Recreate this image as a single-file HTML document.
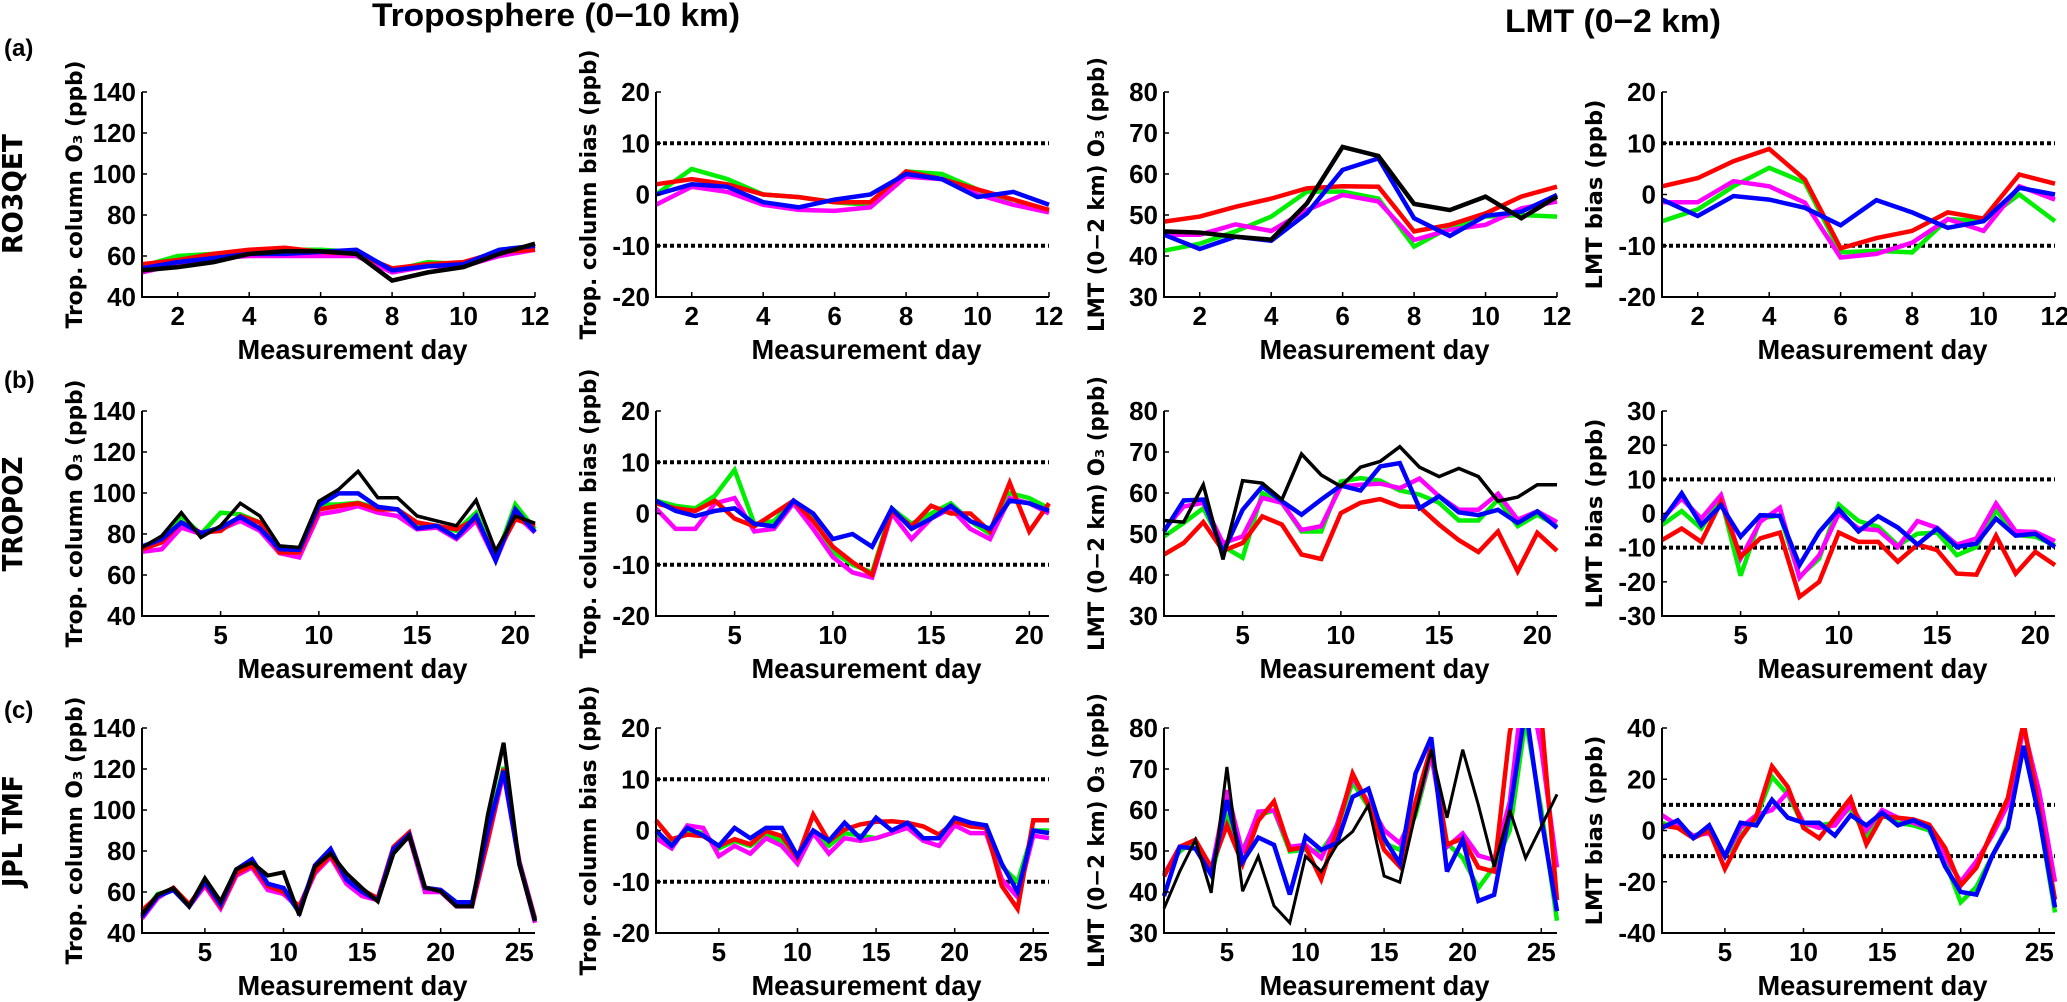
<!DOCTYPE html>
<html><head><meta charset="utf-8"><style>
html,body{margin:0;padding:0;background:#fff;}
svg{display:block;}
text{font-family:"Liberation Sans",sans-serif;font-weight:bold;fill:#000;}
.wide{font-family:"DejaVu Sans","Liberation Sans",sans-serif;}
</style></head><body>
<svg id="fig" width="2067" height="1002" viewBox="0 0 2067 1002" xmlns="http://www.w3.org/2000/svg">
<text x="556" y="26" font-size="32" text-anchor="middle" textLength="368" lengthAdjust="spacingAndGlyphs">Troposphere (0−10 km)</text>
<text x="1613" y="32" font-size="32" text-anchor="middle" textLength="216" lengthAdjust="spacingAndGlyphs">LMT (0−2 km)</text>
<text x="4" y="56" font-size="24">(a)</text>
<text x="4" y="388" font-size="24">(b)</text>
<text x="4" y="718" font-size="24">(c)</text>
<text class="wide" transform="translate(22,194) rotate(-90)" font-size="28" text-anchor="middle" textLength="120" lengthAdjust="spacingAndGlyphs">RO3QET</text>
<text class="wide" transform="translate(22,514) rotate(-90)" font-size="28" text-anchor="middle" textLength="115" lengthAdjust="spacingAndGlyphs">TROPOZ</text>
<text class="wide" transform="translate(22,831) rotate(-90)" font-size="28" text-anchor="middle" textLength="112" lengthAdjust="spacingAndGlyphs">JPL TMF</text>
</svg>
<script>
// ---- data: row a (12 days) ----
const a1_green=[55,60,61,62,63,63,62,53,57,56,63,65];
const a1_magenta=[52,56,59,60,60,60,60,52,55,55,60,63];
const a1_red=[56,58,61,63,64,62,61,54,56,57,62,63];
const a1_blue=[54,57,59,61,61,62,63,53,55,56,63,65];
const a1_black=[53,54.6,57,61,62.3,62.3,61,48,52,54.6,61,66];
const a2_green=[0,5,3,0,-0.5,-1.5,-2,4.5,4,1,-2,-3];
const a2_magenta=[-2,1.5,0.5,-2,-3,-3.2,-2.5,3.5,3,0,-2,-3.5];
const a2_red=[2,3,2,0,-0.5,-1.5,-1.5,4.5,3,1,-1,-3];
const a2_blue=[0,2,1.5,-1.5,-2.5,-1,0,4,3,-0.5,0.5,-2];
const a3_green=[41.3,43,46,49.6,55.7,55.7,54,42.3,47,49.6,50,49.6];
const a3_magenta=[45.2,45.2,47.7,46.1,51.2,54.9,53.3,43.9,46.4,47.6,51.6,53.3];
const a3_red=[48.4,49.6,52,54,56.5,57,56.9,46,47.6,50.4,54.5,56.9];
const a3_blue=[45.2,41.7,44.7,43.7,50.4,61,63.8,49.2,44.9,49.8,50.8,54.9];
const a3_black=[46,45.7,44.7,44,52.8,66.6,64.4,52.7,51.2,54.5,49.2,54.5];
const a4_green=[-5.2,-2.9,1.6,5.2,2.3,-11.3,-11,-11.3,-4.8,-5.2,0,-5.2];
const a4_magenta=[-1.5,-1.5,2.6,1.6,-1.6,-12.3,-11.6,-9.4,-4.8,-7.1,1.6,-1];
const a4_red=[1.6,3.2,6.5,8.9,2.9,-10.5,-8.5,-7.1,-3.5,-4.7,3.9,2.1];
const a4_blue=[-1,-4.2,-0.3,-1,-2.6,-6,-1.1,-3.5,-6.5,-5.2,1.3,0];
// ---- data: row b (21 days) ----
const b1_green=[73.4,78.3,88.8,80,90.4,89.6,85.6,71.8,71,94.4,94.4,95.2,92.8,92,84,84,81.5,90.4,67.7,94.4,82.3];
const b1_magenta=[71.3,72.6,83.1,80,82.3,86.4,81.5,70.7,68.6,89.6,91.2,93.6,90.4,88.8,82.3,83.1,77.5,86.4,67,89.6,80.7];
const b1_red=[72.6,75.9,85.6,80.7,81.5,88.8,85.6,71,71,92,93.6,95,92,92,85.6,84,82.3,87.2,69.4,87.2,84];
const b1_blue=[73.9,77.5,85.6,80.4,83.1,88.3,82.7,72.6,72.3,94,99.8,99.8,93.2,92,82.8,84,78.3,88.8,67,92,81];
const b1_black=[73.4,79,90.4,78.3,84,95,88.8,74.2,73.4,96,101.7,110.6,97.7,97.7,88.8,86.4,84,96.5,71.8,88.8,85.2];
const b2_green=[2.5,1.5,1,3.5,8.5,-2,-1.5,2.5,-1,-7.5,-10,-11.5,1,-2,0,2,-1.5,-4,4,3,1];
const b2_magenta=[1,-3,-3,2,3,-3.5,-3,2,-3,-8.5,-11.5,-12.5,0,-5,-1,1,-3,-5,3,2,0];
const b2_red=[2,1,0.5,2.5,-1,-2.5,0,2.5,-1.5,-6.5,-9.5,-12,0.5,-2.5,1.5,0,0,-3.5,6,-3.5,2];
const b2_blue=[2.5,0.5,-0.5,0.5,1,-2,-2.5,2.5,0,-5,-4,-6.5,1,-3,-1,1.5,-1.5,-3,2.5,2,0.5];
const b3_green=[49.4,52.7,56.3,47,44.2,60,57.6,50.6,50.6,62.8,63.6,63,60.6,59.6,57.6,53.3,53.3,58.4,51.9,54.7,51.9];
const b3_magenta=[51,56.7,57.6,47.8,49.4,58.8,57.6,51,51.9,61.6,62,62.3,61.2,63.5,59.2,55.9,55.9,59.8,53.5,55.5,52.9];
const b3_red=[45,47.8,52.9,45.9,47.8,54.3,52.3,45,43.9,55.1,57.6,58.5,56.7,56.6,52.3,48.5,45.6,50.6,40.9,50.3,45.9];
const b3_blue=[50.6,58.2,58.4,45.5,55.9,61.6,58,54.7,58.4,61.8,60.6,66.5,67.3,56.3,59.2,55.3,54.6,55.9,52.7,55.5,51.5];
const b3_black=[53.3,52.9,62,43.8,63,62.4,58.4,69.5,64.4,61.6,66.3,67.7,71.3,66.3,64,66,64,58,59,62,62];
const b4_green=[-3.4,0.7,-4.4,4.4,-18.2,-1.5,-0.5,-18.5,-13.2,2.6,-2.2,-3.9,-9.3,-5.9,-5.6,-12.2,-9.8,1,-6.3,-6.8,-9.3];
const b4_magenta=[-1.5,4.4,-1.5,5.4,-13.2,-2.4,1.7,-18.8,-12.2,0,-4.4,-4.9,-9.8,-2.2,-4.2,-9.1,-7.3,2.9,-5.2,-5.4,-8.1];
const b4_red=[-7.8,-4.4,-8.3,3.4,-12.7,-7.3,-5.6,-24.4,-20,-5.6,-8.3,-8.3,-14.1,-9.1,-10.7,-17.6,-17.9,-6.5,-17.6,-11.2,-15.1];
const b4_blue=[-2.2,5.9,-3.4,2.4,-6.8,-0.5,-0.7,-15.1,-5.4,1.2,-5.2,-0.8,-4.1,-9.1,-4.4,-9.8,-8.8,-1.5,-6.5,-5.9,-9.8];
// ---- data: row c (26 days) ----
const c1_green=[49,59,61,53,64,54,70,74,63,61,50,72,79,65,60,56,80,88,61,60,54,54,90,121,74,46];
const c1_magenta=[47,57,62,53,63,52,68,72,61,59,52,69,77,64,58,56,80,87,60,60,53,53,85,118,74,45];
const c1_red=[51,58,62,54,64,53,69,73,63,60,53,70,78,66,61,57,82,89,62,61,54,54,85,120,75,47];
const c1_blue=[48,58,61,53,65,54,71,76,64,62,50,73,81,66,60,56,81,88,62,61,55,55,90,119,74,46];
const c1_black=[49,58.7,61.9,53,66.7,55.4,71.2,74.4,68,69.6,48.7,72.4,78.8,69.1,61.9,55.4,78.8,87.3,62.2,60.3,53,53,97.6,132.8,73.2,45.8];
const c2_green=[-0.5,-2.5,0,-0.5,-3.5,-2,-3,-1,-2,-6,-0.5,-3,-0.5,-1,-1.5,-0.5,1,-1.5,-1.5,2.5,1.5,1,-7,-10,0,0];
const c2_magenta=[-1.5,-3.5,1,0.5,-5,-3,-4.5,-1.5,-3,-6.5,-0.5,-4.5,-1.5,-2,-1.5,-0.5,0.5,-2,-3,1,-0.5,-0.5,-9.5,-13,-1,-1.5];
const c2_red=[2,-1.7,-0.8,-1.1,-3,-1.7,-2.7,-0.1,-1.1,-5.3,3.1,-2.1,0.2,1.2,1.7,1.8,1.5,0.8,-0.8,1.8,0.8,0.5,-10.8,-15.3,2,2];
const c2_blue=[0,-3,0.5,-1,-3,0.5,-1.5,0.5,0.5,-5,0,-2,1.5,-1.5,2.5,0,1.5,-1.5,-1.5,2.5,1.5,1,-6.5,-12,0,-0.5];
const c3_green=[44.6,49.9,52.7,44.2,58.3,50.3,58.7,59.9,49.9,50.3,49.9,55.5,66.8,60.8,51.9,50.3,58.7,73.3,51.9,48.3,41,46.2,55,82,60,33];
const c3_magenta=[44.2,51,52.7,45,64.8,49.5,59.6,59.9,51,51.5,48.3,56.3,68,61.9,55.1,51.9,59.9,73.7,51,54.3,48.9,47.8,62,95,75,46];
const c3_red=[43.8,51,52.7,46,56.3,46.8,57.4,62.1,50.3,51,43.1,55.1,68.9,61.2,50.3,46.2,62,75.3,51.6,53,46,45,79,95,83,38];
const c3_blue=[39,51,50.6,44.2,62.4,47.4,53.3,51.5,39.4,53.5,50.3,51.9,63.2,65.2,53.1,47,68.9,77.7,45,52.7,37.8,39.3,59.6,85,58,35.3];
const c3_black=[36,45,52.7,39.8,70.5,40.2,48.7,36.6,32.5,48.7,45,51.5,54.7,61.2,43.9,42.4,59.2,74.7,58.1,74.7,61.2,46.2,60,48.3,56,63.8];
const c4_green=[3,1,-2,0,-10,-2,5,21,14,2,2,3,9,-3,6,3,2,0,-12,-28,-22,-10,2,33,5,-32];
const c4_magenta=[6,2,-2,-1,-10,1,6,8,15,3,1,2,10,0,8,5,3,1,-10,-20,-12,-2,10,40,15,-20];
const c4_red=[2,1,-3,0,-15,-3,5.5,25,17,1,-3,5,12.6,-5.4,5.5,5,4.3,2.3,-6.7,-21.5,-14.5,-0.3,12.6,42,8,-27];
const c4_blue=[1,4,-3,2,-10,3,2,12,5,3,3,-2,6,2,7,2,4,1,-14,-24,-25,-10,1,33,5,-30];
// ---- axis tick labels ----
const xticksA=[2,4,6,8,10,12];
const xticksB=[5,10,15,20];
const xticksC=[5,10,15,20,25];
const yticksTrop=[40,60,80,100,120,140];
const yticksBias20=[-20,-10,0,10,20];
const yticksLMT=[30,40,50,60,70,80];
const yticksBias30=[-30,-20,-10,0,10,20,30];
const yticksBias40=[-40,-20,0,20,40];
const ylabels=["Trop. column O\u2083 (ppb)","Trop. column bias (ppb)","LMT (0\u22122 km) O\u2083 (ppb)","LMT bias (ppb)"];

const NS="http://www.w3.org/2000/svg";
const svg=document.getElementById('fig');
const colLeft=[142,656,1164,1662], W=393;
const rowTop=[92,411,728], H=205;
const COLORS={green:"#00ee00",magenta:"#ff00ff",red:"#ff0000",blue:"#0000ff",black:"#000000"};
function mk(tag,attrs,parent){const e=document.createElementNS(NS,tag);for(const k in attrs)e.setAttribute(k,attrs[k]);(parent||svg).appendChild(e);return e;}

const panels=[
 {r:0,c:0,xmax:12,xt:xticksA,yr:[40,140],yt:yticksTrop,s:{green:a1_green,magenta:a1_magenta,red:a1_red,blue:a1_blue,black:a1_black},bw:4.5},
 {r:0,c:1,xmax:12,xt:xticksA,yr:[-20,20],yt:yticksBias20,s:{green:a2_green,magenta:a2_magenta,red:a2_red,blue:a2_blue},dots:[10,-10]},
 {r:0,c:2,xmax:12,xt:xticksA,yr:[30,80],yt:yticksLMT,s:{green:a3_green,magenta:a3_magenta,red:a3_red,blue:a3_blue,black:a3_black},bw:4.5},
 {r:0,c:3,xmax:12,xt:xticksA,yr:[-20,20],yt:yticksBias20,s:{green:a4_green,magenta:a4_magenta,red:a4_red,blue:a4_blue},dots:[10,-10]},
 {r:1,c:0,xmax:21,xt:xticksB,yr:[40,140],yt:yticksTrop,s:{green:b1_green,magenta:b1_magenta,red:b1_red,blue:b1_blue,black:b1_black},bw:3.5},
 {r:1,c:1,xmax:21,xt:xticksB,yr:[-20,20],yt:yticksBias20,s:{green:b2_green,magenta:b2_magenta,red:b2_red,blue:b2_blue},dots:[10,-10]},
 {r:1,c:2,xmax:21,xt:xticksB,yr:[30,80],yt:yticksLMT,s:{green:b3_green,magenta:b3_magenta,red:b3_red,blue:b3_blue,black:b3_black},bw:3.5},
 {r:1,c:3,xmax:21,xt:xticksB,yr:[-30,30],yt:yticksBias30,s:{green:b4_green,magenta:b4_magenta,red:b4_red,blue:b4_blue},dots:[10,-10]},
 {r:2,c:0,xmax:26,xt:xticksC,yr:[40,140],yt:yticksTrop,s:{green:c1_green,magenta:c1_magenta,red:c1_red,blue:c1_blue,black:c1_black},bw:4},
 {r:2,c:1,xmax:26,xt:xticksC,yr:[-20,20],yt:yticksBias20,s:{green:c2_green,magenta:c2_magenta,red:c2_red,blue:c2_blue},dots:[10,-10]},
 {r:2,c:2,xmax:26,xt:xticksC,yr:[30,80],yt:yticksLMT,s:{green:c3_green,magenta:c3_magenta,red:c3_red,blue:c3_blue,black:c3_black},bw:3},
 {r:2,c:3,xmax:26,xt:xticksC,yr:[-40,40],yt:yticksBias40,s:{green:c4_green,magenta:c4_magenta,red:c4_red,blue:c4_blue},dots:[10,-10]}
];
const defs=mk('defs',{});
panels.forEach((p,i)=>{
  const L=colLeft[p.c], T=rowTop[p.r], B=T+H;
  const xs=v=>L+(v-1)/(p.xmax-1)*W;
  const ys=v=>B-(v-p.yr[0])/(p.yr[1]-p.yr[0])*H;
  const g=mk('g',{});
  
  
  const cp=mk('clipPath',{id:'cp'+i},defs);
  mk('rect',{x:L-3,y:T,width:W+6,height:H},cp);
  // dotted reference lines
  (p.dots||[]).forEach(d=>{
    const ln=mk('line',{x1:L,x2:L+W,y1:ys(d),y2:ys(d),stroke:'#000','stroke-width':4,'stroke-dasharray':'4 3'},g);
    
    
  });
  // series
  const lg=mk('g',{'clip-path':'url(#cp'+i+')'},g);
  ['green','magenta','red','blue','black'].forEach(k=>{
    const arr=p.s[k]; if(!arr) return;
    const pts=arr.map((v,j)=>xs(j+1).toFixed(1)+','+ys(v).toFixed(1)).join(' ');
    const pl=mk('polyline',{points:pts,fill:'none',stroke:COLORS[k],'stroke-width':k==='black'?p.bw:4.5,'stroke-linejoin':'miter','stroke-miterlimit':3},lg);
    
    
  });
  // axes
  const ax=mk('path',{d:`M${L},${T} L${L},${B} L${L+W},${B}`,fill:'none',stroke:'#000','stroke-width':2},g);
  
  
  p.yt.forEach(v=>{
    mk('line',{x1:L,x2:L+5,y1:ys(v),y2:ys(v),stroke:'#000','stroke-width':1.5},g);
    const t=mk('text',{x:L-6,y:ys(v)+9,'font-size':26,'text-anchor':'end'},g);
    t.textContent=v;
    
    
  });
  p.xt.forEach(v=>{
    mk('line',{x1:xs(v),x2:xs(v),y1:B,y2:B-5,stroke:'#000','stroke-width':1.5},g);
    const t=mk('text',{x:xs(v),y:B+28,'font-size':26,'text-anchor':'middle'},g);
    t.textContent=v;
    
    
  });
  const xl=mk('text',{x:L+W/2+14,y:B+62,'font-size':28,'text-anchor':'middle',textLength:230,lengthAdjust:'spacingAndGlyphs'},g);
  xl.textContent='Measurement day';
  
  
  const lens=[268,290,275,190];
  const yl=mk('text',{class:'wide',transform:`translate(${L-60},${T+H/2}) rotate(-90)`,'font-size':22,'text-anchor':'middle',textLength:lens[p.c],lengthAdjust:'spacingAndGlyphs'},g);
  yl.textContent=ylabels[p.c];
  
  
});
</script>
</body></html>
